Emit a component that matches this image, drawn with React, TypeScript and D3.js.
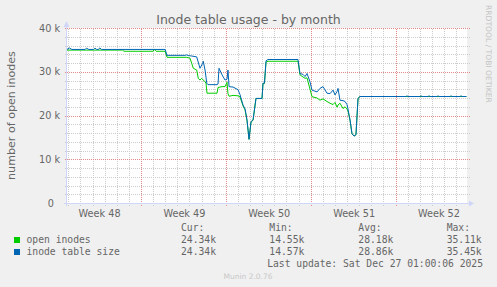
import React from "react";
import * as d3 from "d3";

// ---- data (values in thousands, x = days since window start) ----
const START = Date.UTC(2025, 10, 23, 21, 29);
const SPAN_DAYS = 33;

const openInodes: [number, number][] = [
  [0, 34.95], [4.6, 34.95], [4.7, 34.68], [7.1, 34.68], [7.2, 35.11], [7.35, 34.68],
  [8.1, 34.68], [8.25, 33.3], [9.88, 33.3], [10.15, 33.1], [10.29, 31.9], [10.42, 30.8],
  [10.7, 30.4], [10.83, 28.5], [10.97, 28.1], [11.11, 28.5], [11.39, 27.7], [11.47, 27.4],
  [11.55, 25.1], [12.38, 25.1], [12.46, 26.4], [12.79, 26.6], [13.04, 26.6], [13.2, 27.6],
  [13.28, 25.0], [13.37, 24.4], [13.7, 24.6], [14.11, 24.5], [14.27, 24.3], [14.52, 22.2],
  [14.69, 21.3], [14.85, 18.8], [15.02, 14.55], [15.18, 18.5], [15.35, 18.9], [15.59, 23.9],
  [16.09, 23.9], [16.17, 27.3], [16.29, 27.3], [16.42, 32.2], [16.58, 32.4], [19.06, 32.4],
  [19.22, 29.3], [19.47, 28.8], [19.64, 28.5], [19.8, 28.6], [20.05, 26.0], [20.21, 24.3],
  [20.63, 24.0], [20.87, 23.5], [21.12, 23.8], [21.45, 23.2], [21.7, 22.8], [21.95, 22.5],
  [22.11, 23.0], [22.28, 21.9], [22.36, 22.4], [22.52, 22.8], [22.77, 21.6], [22.94, 22.0],
  [23.1, 21.5], [23.18, 21.0], [23.35, 18.9], [23.51, 15.8], [23.68, 15.3], [23.84, 15.6],
  [24.01, 23.9], [24.17, 24.34], [32.95, 24.34],
];

const inodeTableSize: [number, number][] = [
  [0, 35.1], [0.2, 35.43], [0.4, 35.1], [1.5, 35.1], [1.6, 35.4], [1.8, 35.1], [2.2, 35.1],
  [2.3, 35.4], [2.45, 35.1], [2.6, 35.1], [2.7, 35.45], [2.85, 35.1], [8.1, 35.1],
  [8.25, 33.75], [9.75, 33.75], [9.85, 33.85], [10.0, 33.7], [10.29, 33.6], [10.7, 33.4],
  [10.97, 30.8], [11.19, 31.9], [11.24, 32.4], [11.39, 30.4], [11.53, 27.4], [11.63, 27.05],
  [12.38, 27.05], [12.46, 27.2], [12.54, 30.8], [12.79, 29.3], [13.04, 28.1], [13.2, 28.3],
  [13.28, 30.4], [13.37, 26.6], [13.7, 26.5], [14.11, 25.9], [14.27, 24.8], [14.52, 22.4],
  [14.69, 21.5], [14.85, 19.0], [15.02, 14.57], [15.18, 18.6], [15.35, 19.0], [15.59, 23.9],
  [16.09, 23.9], [16.17, 27.4], [16.29, 27.4], [16.42, 32.5], [16.58, 32.8], [19.06, 32.8],
  [19.22, 29.6], [19.47, 29.4], [19.64, 28.9], [19.8, 29.6], [20.05, 27.7], [20.21, 25.8],
  [20.63, 25.4], [20.87, 26.2], [21.12, 26.6], [21.45, 25.1], [21.7, 25.0], [21.95, 25.8],
  [22.11, 24.7], [22.28, 25.5], [22.36, 26.2], [22.52, 23.5], [22.77, 23.4], [22.94, 23.2],
  [23.1, 22.5], [23.18, 21.5], [23.35, 19.0], [23.51, 15.9], [23.68, 15.3], [23.84, 15.6],
  [24.01, 23.9], [24.17, 24.34], [27.97, 24.34], [28.05, 24.5], [28.13, 24.34],
  [29.12, 24.34], [29.21, 24.5], [29.29, 24.34], [29.78, 24.34], [29.87, 24.5],
  [29.95, 24.34], [30.53, 24.34], [30.61, 24.5], [30.69, 24.34], [31.6, 24.34],
  [31.68, 24.5], [31.76, 24.34], [32.42, 24.34], [32.51, 24.5], [32.59, 24.34], [32.95, 24.34],
];

const yTicks = [0, 10000, 20000, 30000, 40000];
const yTickLabels = ["0", "10 k", "20 k", "30 k", "40 k"];
const weekLabels = ["Week 48", "Week 49", "Week 50", "Week 51", "Week 52"];
const seriesNames = ["open inodes", "inode table size"];
const seriesColors = ["#00CC00", "#0066B3"];
const statHeaders = ["Cur:", "Min:", "Avg:", "Max:"];
const openStats = ["24.34k", "14.55k", "28.18k", "35.11k"];
const sizeStats = ["24.34k", "14.57k", "28.86k", "35.45k"];

const TITLE = "Inode table usage - by month";
const Y_LABEL = "number of open inodes";
const LAST_UPDATE = "Last update: Sat Dec 27 01:00:06 2025";
const WATERMARK = "RRDTOOL / TOBI OETIKER";
const FOOTER = "Munin 2.0.76";

const SANS = "'DejaVu Sans', sans-serif";
const MONO = "'DejaVu Sans Mono', monospace";
const FONT_COLOR = "#666666";
const MINOR = "#CCCCCC";
const MAJOR = "#E48888";
const AXIS = "#CFD6F8";

export default function App() {
  const L = 67, R = 467, T = 28, B = 203;
  const t0 = new Date(START);
  const t1 = new Date(START + SPAN_DAYS * 864e5);
  const x = d3.scaleUtc().domain([t0, t1]).range([L, R]);
  const y = d3.scaleLinear().domain([0, 40000]).range([B, T]);
  const toDate = (d: number) => new Date(START + d * 864e5);
  const line = d3
    .line<[number, number]>()
    .x((d) => x(toDate(d[0])))
    .y((d) => y(d[1] * 1000));

  const px = (v: number) => Math.round(v) + 0.5;

  const days = d3.utcDay.range(t0, t1).filter((d) => d.getUTCDay() !== 0);
  const sundays = d3.utcSunday.range(t0, t1);
  const weekStarts = d3.utcSunday.range(d3.utcSunday.floor(t0), t1);
  const minorY = d3.range(0, 40001, 2000).filter((v) => v % 10000 !== 0);

  const colX = [181, 269.3, 358.3, 446.7];
  const rowY = [243, 255];
  const stats = [openStats, sizeStats];

  // dotted segments as explicit dots for reliable rendering
  const hDots = (yy: number) => {
    let d = "";
    for (let xx = L - 2; xx <= R + 2; xx += 2) d += `M${xx},${yy}h1`;
    return d;
  };
  const vDots = (xx: number) => {
    let d = "";
    for (let yy = B + 2; yy >= T; yy -= 2) d += `M${xx},${yy}v1`;
    return d;
  };

  return (
    <svg
      width={497}
      height={287}
      style={{ position: "absolute", left: 0, top: 0, display: "block" }}
      xmlns="http://www.w3.org/2000/svg"
    >
      <rect x={0} y={0} width={497} height={287} fill="#F0F0F0" />
      <rect x={L} y={T} width={R - L} height={B - T} fill="#FFFFFF" />

      {/* minor grid */}
      <g stroke={MINOR} strokeWidth={1} fill="none">
        {minorY.map((v) => (
          <path key={"my" + v} d={hDots(px(y(v)))} />
        ))}
        {days.map((d) => (
          <path key={"mx" + d.getTime()} d={vDots(px(x(d)))} />
        ))}
      </g>
      {/* major grid */}
      <g stroke={MAJOR} strokeWidth={1} fill="none">
        {yTicks.filter((v) => v > 0).map((v) => (
          <path key={"My" + v} d={hDots(px(y(v)))} />
        ))}
        {sundays.map((d) => (
          <path key={"Mx" + d.getTime()} d={vDots(px(x(d)))} />
        ))}
      </g>

      {/* axes */}
      <g stroke={AXIS} strokeWidth={1} shapeRendering="crispEdges">
        <line x1={L - 0.5} x2={L - 0.5} y1={B + 3} y2={T - 4} />
        <line x1={L - 3} x2={R + 3} y1={B + 0.5} y2={B + 0.5} />
      </g>
      <path d={`M${L - 3.5},${T - 1} L${L + 2.5},${T - 1} L${L - 0.5},${T - 7} Z`} fill={AXIS} />
      <path d={`M${R + 2},${B - 2.5} L${R + 2},${B + 3.5} L${R + 7},${B + 0.5} Z`} fill={AXIS} />

      {/* series */}
      <path d={line(openInodes) || ""} fill="none" stroke={seriesColors[0]} strokeWidth={1} />
      <path d={line(inodeTableSize) || ""} fill="none" stroke={seriesColors[1]} strokeWidth={1} />

      {/* title */}
      <text x={248.5} y={24} textAnchor="middle" fontFamily={SANS} fontSize={12.5} fill={FONT_COLOR}>
        {TITLE}
      </text>

      {/* tick labels */}
      <g fontFamily={SANS} fontSize={9.7} fill={FONT_COLOR}>
        {yTicks.map((v, i) => (
          <text key={"yl" + v} x={v === 0 ? 54 : 60} y={y(v) + 3.5} textAnchor="end">
            {yTickLabels[i]}
          </text>
        ))}
        {weekStarts.map((d, i) => (
          <text key={"wl" + i} x={x(new Date(d.getTime() + 3.5 * 864e5)) + 1} y={217} textAnchor="middle">
            {weekLabels[i]}
          </text>
        ))}
      </g>

      {/* y axis label */}
      <text
        transform={`translate(15, ${(T + B) / 2}) rotate(-90)`}
        textAnchor="middle"
        fontFamily={SANS}
        fontSize={11.1}
        fill={FONT_COLOR}
      >
        {Y_LABEL}
      </text>

      {/* watermark */}
      <text
        transform="translate(485.5, 5) rotate(90)"
        fontFamily={SANS}
        fontSize={7.6}
        fill="#C4C4C4"
      >
        {WATERMARK}
      </text>

      {/* legend */}
      <g fontFamily={MONO} fontSize={9.7} fill={FONT_COLOR} style={{ whiteSpace: "pre" }}>
        {statHeaders.map((h, i) => (
          <text key={"h" + i} x={colX[i]} y={231}>
            {h}
          </text>
        ))}
        {seriesNames.map((name, r) => (
          <g key={"r" + r}>
            <rect x={14} y={rowY[r] - 6} width={6} height={6} fill={seriesColors[r]} />
            <text x={26.5} y={rowY[r]}>{name}</text>
            {stats[r].map((s, c) => (
              <text key={"s" + c} x={colX[c]} y={rowY[r]}>
                {s}
              </text>
            ))}
          </g>
        ))}
        <text x={483} y={267} textAnchor="end">
          {LAST_UPDATE}
        </text>
      </g>
      <text x={248} y={279} textAnchor="middle" fontFamily={SANS} fontSize={7.5} fill="#C8C8C8">
        {FOOTER}
      </text>
    </svg>
  );
}
